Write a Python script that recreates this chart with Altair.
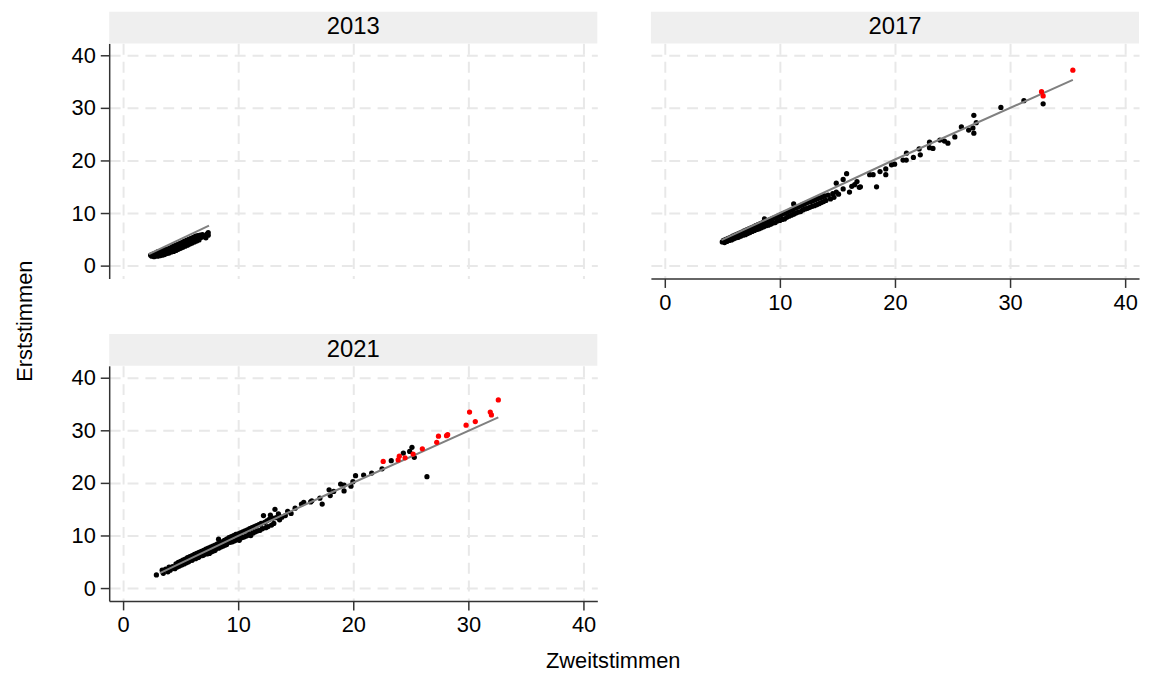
import altair as alt
import pandas as pd

# ---------------- data ----------------
years = ["2013", "2017", "2021"]

x_2013 = [2.4, 2.5, 2.6, 2.7, 2.8, 2.9, 3.0, 3.0, 3.1, 3.2, 3.3, 3.3, 3.4, 3.5, 3.5, 3.6, 3.7, 3.7,
          3.8, 3.9, 3.9, 4.0, 4.1, 4.1, 4.2, 4.3, 4.3, 4.4, 4.5, 4.5, 4.6, 4.7, 4.7, 4.8, 4.9, 4.9,
          5.0, 5.1, 5.1, 5.2, 5.3, 5.3, 5.4, 5.5, 5.5, 5.6, 5.7, 5.7, 5.8, 5.9, 5.9, 6.0, 6.1, 6.1,
          6.2, 6.3, 6.3, 6.4, 6.5, 6.6, 6.6, 6.7, 6.8, 6.9, 7.0, 7.1, 7.2, 7.3, 7.4, 7.4]
y_2013 = [2.0, 1.8, 2.2, 1.7, 2.4, 2.0, 1.8, 2.6, 2.2, 1.9, 2.8, 2.3, 2.0, 2.9, 2.5, 2.1, 3.1, 2.6,
          2.3, 3.2, 2.8, 2.4, 3.4, 2.9, 2.6, 3.6, 3.0, 2.7, 3.8, 3.2, 2.9, 4.0, 3.4, 3.1, 4.2, 3.6,
          3.3, 4.4, 3.8, 3.5, 4.6, 4.0, 3.7, 4.8, 4.2, 3.9, 5.0, 4.4, 4.1, 5.2, 4.6, 4.3, 5.4, 4.8,
          4.5, 5.6, 5.0, 4.7, 5.7, 5.2, 4.9, 5.8, 5.4, 5.9, 5.5, 5.6, 5.3, 6.0, 6.3, 5.8]
red_x_2013 = []
red_y_2013 = []
fit_x_2013 = [2.25, 7.47]
fit_y_2013 = [2.2, 7.6]

x_2017 = [5.0, 5.1, 5.2, 5.3, 5.4, 5.5, 5.6, 5.7, 5.8, 5.9, 6.0, 6.1, 6.2, 6.3, 6.4, 6.5, 6.6, 6.7,
          6.8, 6.9, 7.0, 7.1, 7.2, 7.3, 7.4, 7.5, 7.6, 7.7, 7.8, 7.9, 8.0, 8.1, 8.2, 8.3, 8.4, 8.5,
          8.6, 8.66, 8.7, 8.8, 8.9, 9.0, 9.1, 9.2, 9.3, 9.4, 9.5, 9.6, 9.7, 9.8, 9.9, 10.0, 10.1,
          10.2, 10.3, 10.4, 10.5, 10.6, 10.7, 10.8, 10.9, 11.0, 11.1, 11.2, 11.2, 11.3, 11.4, 11.5,
          11.6, 11.7, 11.8, 11.9, 12.0, 12.1, 12.2, 12.3, 12.4, 12.5, 12.6, 12.7, 12.8, 12.9, 13.0,
          13.1, 13.2, 13.3, 13.4, 13.5, 13.6, 13.7, 13.8, 13.9, 14.0, 14.2, 14.4, 14.6, 14.7, 14.9,
          15.1, 14.9, 15.5, 15.8, 15.5, 16.05, 16.25, 16.5, 16.7, 16.9, 17.0, 17.8, 18.1, 18.4,
          18.7, 19.2, 19.2, 19.7, 19.97, 20.7, 20.98, 21.0, 21.6, 22.1, 22.2, 23.0, 23.0, 23.3,
          23.9, 24.3, 24.6, 25.2, 25.77, 26.4, 26.77, 26.85, 26.85, 27.06, 29.2, 31.2, 32.87]
y_2017 = [4.5, 4.8, 4.4, 5.0, 4.6, 5.2, 4.8, 5.4, 4.9, 5.6, 5.1, 5.8, 5.3, 6.0, 5.4, 6.2, 5.6, 6.4,
          5.8, 6.6, 5.9, 6.8, 6.1, 7.0, 6.3, 7.2, 6.5, 7.4, 6.7, 7.6, 6.9, 7.8, 7.0, 8.0, 7.2, 8.2,
          7.4, 8.9, 8.3, 7.6, 8.5, 7.7, 8.7, 7.9, 8.9, 8.1, 9.1, 8.2, 9.3, 8.5, 9.5, 8.6, 9.7,
          8.8, 9.9, 8.9, 10.1, 9.2, 10.3, 9.4, 10.5, 9.6, 10.7, 11.75, 9.8, 10.9, 10.0, 11.1,
          10.2, 11.3, 10.3, 11.5, 10.6, 11.7, 10.8, 11.9, 10.9, 12.1, 11.1, 12.2, 11.3, 12.4, 11.4,
          12.6, 11.6, 12.8, 11.8, 12.9, 12.0, 13.1, 12.2, 13.3, 12.4, 13.4, 12.7, 13.7, 13.0, 14.0,
          13.6, 15.7, 16.4, 17.5, 14.6, 14.0, 15.1, 15.4, 16.0, 14.9, 15.0, 17.3, 17.3, 15.0,
          17.9, 18.4, 17.3, 19.2, 19.3, 20.1, 20.1, 21.4, 20.6, 22.2, 21.1, 22.45, 23.5, 22.3,
          23.9, 23.7, 23.3, 24.5, 26.4, 25.8, 26.2, 25.2, 28.6, 27.2, 30.1, 31.4, 30.8]
red_x_2017 = [35.45, 32.73, 32.87]
red_y_2017 = [37.2, 33.1, 32.3]
fit_x_2017 = [4.93, 20.0, 35.45]
fit_y_2017 = [4.85, 20.2, 35.35]

x_2021 = [2.9, 3.4, 3.5, 3.7, 3.9, 4.0, 4.1, 4.3, 4.4, 4.5, 4.6, 4.7, 4.8, 4.9, 5.0, 5.1, 5.2, 5.3,
          5.4, 5.5, 5.6, 5.7, 5.8, 5.9, 6.0, 6.0, 6.1, 6.2, 6.3, 6.4, 6.5, 6.6, 6.6, 6.7, 6.8, 6.9,
          7.0, 7.0, 7.1, 7.2, 7.3, 7.4, 7.5, 7.5, 7.6, 7.7, 7.8, 7.9, 8.0, 8.0, 8.1, 8.2, 8.3, 8.3,
          8.4, 8.5, 8.6, 8.7, 8.8, 8.9, 9.0, 9.0, 9.1, 9.2, 9.3, 9.4, 9.5, 9.6, 9.7, 9.8, 9.9, 10.0,
          10.0, 10.1, 10.2, 10.3, 10.4, 10.5, 10.6, 10.7, 10.8, 10.9, 11.0, 11.0, 11.1, 11.2, 11.3,
          11.4, 11.5, 11.6, 11.7, 11.8, 11.9, 12.0, 12.1, 12.2, 12.3, 12.4, 12.5, 12.6, 12.7, 12.8,
          12.9, 13.0, 13.1, 13.2, 13.3, 13.5, 13.6, 13.8, 14.1, 14.3, 14.6, 14.95, 15.5, 15.7, 16.3,
          16.4, 17.1, 17.3, 17.9, 18.0, 18.3, 18.9, 19.2, 19.2, 19.8, 19.97, 20.2, 20.9, 21.6,
          22.5, 23.3, 24.35, 24.9, 25.1, 25.3, 26.4]
y_2021 = [2.5, 3.4, 2.8, 3.6, 3.1, 4.0, 3.4, 4.1, 3.8, 3.7, 4.6, 4.0, 4.9, 4.2, 5.1, 4.4, 5.3, 4.6,
          5.5, 4.8, 5.8, 5.0, 6.0, 5.3, 6.2, 5.3, 5.6, 6.4, 5.6, 6.6, 5.8, 6.8, 5.9, 6.2, 7.0, 6.2,
          7.2, 6.3, 6.6, 7.4, 6.5, 7.6, 7.0, 6.6, 7.8, 6.9, 8.0, 7.1, 8.2, 7.2, 7.6, 8.4, 9.3, 7.6,
          8.6, 7.8, 8.8, 8.0, 9.1, 8.2, 9.3, 8.3, 8.7, 9.6, 8.7, 9.8, 8.8, 10.0, 9.0, 10.2, 9.2, 10.3,
          9.4, 9.1, 10.5, 9.6, 10.7, 9.7, 10.9, 9.9, 11.1, 10.1, 11.3, 10.3, 10.0, 11.5, 10.5,
          11.7, 10.7, 11.9, 10.9, 12.1, 11.0, 12.3, 11.3, 13.8, 12.5, 11.5, 12.8, 11.7, 13.1, 13.9,
          12.0, 13.3, 12.3, 15.0, 13.4, 14.1, 13.0, 13.5, 13.8, 14.6, 14.2, 15.2, 16.0, 16.3, 16.4,
          16.6, 17.1, 16.0, 18.7, 17.6, 18.4, 19.8, 19.6, 18.5, 19.4, 20.25, 21.4, 21.5, 21.9,
          22.7, 24.25, 25.7, 26.0, 26.8, 24.9, 21.2]
red_x_2021 = [32.6, 31.9, 32.0, 30.1, 30.6, 29.8, 28.2, 28.1, 27.4, 27.25, 26.0, 25.2, 24.5, 24.0,
              23.9, 22.6]
red_y_2021 = [35.8, 33.5, 32.95, 33.5, 31.7, 31.0, 29.2, 29.0, 28.9, 27.75, 26.5, 25.5, 24.8, 25.1,
              24.4, 24.1]
fit_x_2021 = [3.2, 10.0, 18.0, 32.6]
fit_y_2021 = [2.86, 9.95, 18.1, 32.5]

x_title = "Zweitstimmen"
y_title = "Erststimmen"
tick_values = [0, 10, 20, 30, 40]

# ---------------- styling ----------------
FONT = "Liberation Sans"
W, H = 492, 237
XDOM = [-1.2, 41.2]
YDOM = [-2.45, 42.3]
GRID = dict(grid=True, gridDash=[11, 7], gridColor="#e8e8e8", gridWidth=2)


def panel(year, xs, ys, rx, ry, fx, fy, show_x, show_y, with_titles=False):
    pts = pd.DataFrame({"x": xs, "y": ys})
    red = pd.DataFrame({"x": rx, "y": ry})
    fit = pd.DataFrame({"x": fx, "y": fy})
    hdr = pd.DataFrame({"year": [year]})

    xa = dict(values=tick_values, labels=show_x, ticks=show_x, domain=show_x, **GRID)
    ya = dict(values=tick_values, labels=show_y, ticks=show_y, domain=show_y, **GRID)
    if with_titles:
        xa.update(title=x_title, titleX=507.5, titleY=60, titleAlign="center",
                  titleBaseline="middle")
        ya.update(title=y_title, titleX=-85.5, titleY=-45.5, titleAlign="center",
                  titleBaseline="middle", titleAngle=270)
    else:
        xa.update(title=None)
        ya.update(title=None)

    xenc = alt.X("x:Q", scale=alt.Scale(domain=XDOM, nice=False, zero=False), axis=alt.Axis(**xa))
    yenc = alt.Y("y:Q", scale=alt.Scale(domain=YDOM, nice=False, zero=False), axis=alt.Axis(**ya))

    strip = alt.Chart(hdr).mark_rect(color="#efefef").encode(
        x=alt.value(0), x2=alt.value("width"), y=alt.value(-32), y2=alt.value(0))
    label = alt.Chart(hdr).mark_text(font=FONT, fontSize=24, color="black",
                                     baseline="middle", align="center").encode(
        text="year:N", x=alt.value(W / 2), y=alt.value(-16))
    black = alt.Chart(pts).mark_circle(size=28, opacity=1, color="black").encode(x=xenc, y=yenc)
    line = alt.Chart(fit).mark_line(color="#808080", strokeWidth=2).encode(x=xenc, y=yenc)
    layers = [strip, label, black, line]
    if len(rx):
        layers.append(alt.Chart(red).mark_circle(size=28, opacity=1, color="#ff0000")
                      .encode(x=xenc, y=yenc))
    return alt.layer(*layers).properties(width=W, height=H)


p2013 = panel(years[0], x_2013, y_2013, red_x_2013, red_y_2013, fit_x_2013, fit_y_2013,
              show_x=False, show_y=True)
p2017 = panel(years[1], x_2017, y_2017, red_x_2017, red_y_2017, fit_x_2017, fit_y_2017,
              show_x=True, show_y=False)
p2021 = panel(years[2], x_2021, y_2021, red_x_2021, red_y_2021, fit_x_2021, fit_y_2021,
              show_x=True, show_y=True, with_titles=True)

chart = alt.concat(p2013, p2017, p2021, columns=2,
                   spacing={"row": 88, "column": 54}, bounds="flush").properties(
    padding={"left": 5, "top": 1, "right": 5, "bottom": 5},
    background="white",
).configure_view(stroke=None).configure_axis(
    labelFont=FONT, labelFontSize=22, labelColor="black", labelPadding=5,
    tickColor="#333333", tickSize=9, tickWidth=1.5,
    domainColor="#333333", domainWidth=1.5,
    titleFont=FONT, titleFontSize=22, titleColor="black", titleFontWeight="normal",
)

chart.save("out.html", embed_options={"renderer": "svg", "actions": False})
